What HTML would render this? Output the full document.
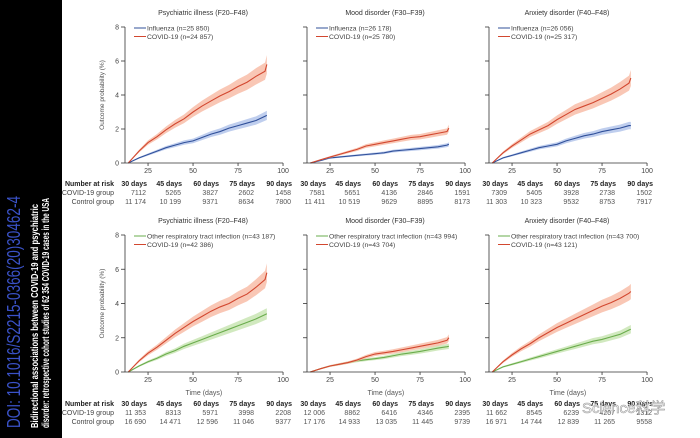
<!DOCTYPE html>
<html><head><meta charset="utf-8"><style>
html,body{margin:0;padding:0;background:#fff;}
svg{display:block;font-family:"Liberation Sans",sans-serif;}
</style></head><body>
<svg id="chart" width="700" height="438" viewBox="0 0 700 438">
<rect x="0" y="0" width="62" height="438" fill="#000"/>
<g transform="translate(20,428) rotate(-90)">
<text x="0" y="0" font-size="18" fill="#3a52c8" textLength="232" lengthAdjust="spacingAndGlyphs">DOI: 10.1016/S2215-0366(20)30462-4</text></g>
<g transform="translate(38,428) rotate(-90)">
<text x="0" y="0" font-size="10.5" font-weight="bold" fill="#fff" textLength="224" lengthAdjust="spacingAndGlyphs">Bidirectional associations between COVID-19 and psychiatric</text></g>
<g transform="translate(49,428) rotate(-90)">
<text x="0" y="0" font-size="10.5" font-weight="bold" fill="#fff" textLength="230" lengthAdjust="spacingAndGlyphs">disorder: retrospective cohort studies of 62 354 COVID-19 cases in the USA</text></g>
<text x="582" y="413" font-size="15" fill="#fff" stroke="#999" stroke-width="0.6">Science科学</text>
</svg>
<script>
const days=[14,20,25,30,35,40,45,50,55,60,65,70,75,80,85,90,91];
const titles=["Psychiatric illness (F20–F48)","Mood disorder (F30–F39)","Anxiety disorder (F40–F48)"];
// top row: influenza vs COVID
const t1Flu=[0,0.3,0.5,0.7,0.9,1.05,1.2,1.3,1.5,1.7,1.85,2.05,2.2,2.35,2.5,2.75,2.8];
const t1Cov=[0,0.7,1.2,1.55,1.95,2.3,2.6,3.0,3.35,3.65,3.95,4.2,4.5,4.75,5.1,5.4,5.8];
const t2Flu=[0,0.15,0.3,0.35,0.4,0.45,0.5,0.55,0.6,0.7,0.75,0.8,0.85,0.9,0.95,1.05,1.1];
const t2Cov=[0,0.2,0.35,0.5,0.65,0.8,1.0,1.1,1.2,1.3,1.4,1.5,1.55,1.65,1.75,1.85,2.05];
const t3Flu=[0,0.3,0.45,0.6,0.75,0.9,1.0,1.1,1.3,1.45,1.6,1.7,1.85,1.95,2.05,2.2,2.2];
const t3Cov=[0,0.6,1.0,1.35,1.7,1.95,2.2,2.55,2.85,3.15,3.35,3.55,3.8,4.05,4.35,4.7,5.0];
// bottom row: other respiratory tract infection vs COVID
const b1Oth=[0,0.35,0.6,0.8,1.05,1.25,1.5,1.7,1.9,2.1,2.3,2.5,2.7,2.9,3.1,3.35,3.4];
const b1Cov=[0,0.65,1.1,1.45,1.85,2.25,2.6,2.95,3.25,3.55,3.8,4.0,4.3,4.55,4.95,5.4,5.8];
const b2Oth=[0,0.2,0.35,0.45,0.55,0.65,0.72,0.78,0.85,0.95,1.05,1.12,1.2,1.3,1.4,1.48,1.5];
const b2Cov=[0,0.2,0.35,0.45,0.55,0.7,0.9,1.05,1.12,1.2,1.3,1.4,1.5,1.6,1.7,1.85,2.0];
const b3Oth=[0,0.3,0.45,0.6,0.75,0.9,1.05,1.2,1.35,1.5,1.65,1.8,1.9,2.05,2.2,2.45,2.5];
const b3Cov=[0,0.6,1.0,1.35,1.65,2.0,2.3,2.6,2.85,3.1,3.35,3.6,3.85,4.05,4.3,4.6,4.7];
const yTicks=[0,2,4,6,8];
const xTicks=[25,50,75,100];
const riskHead=["30 days","45 days","60 days","75 days","90 days"];
const topLegend=[["Influenza (n=25 850)","COVID-19 (n=24 857)"],["Influenza (n=26 178)","COVID-19 (n=25 780)"],["Influenza (n=26 056)","COVID-19 (n=25 317)"]];
const botLegend=[["Other respiratory tract infection (n=43 187)","COVID-19 (n=42 386)"],["Other respiratory tract infection (n=43 994)","COVID-19 (n=43 704)"],["Other respiratory tract infection (n=43 700)","COVID-19 (n=43 121)"]];
const topCovRisk=[[7112,5265,3827,2602,1458],[7581,5651,4136,2846,1591],[7309,5405,3928,2738,1502]];
const topCtlRisk=[[11174,10199,9371,8634,7800],[11411,10519,9629,8895,8173],[11303,10323,9532,8753,7917]];
const botCovRisk=[[11353,8313,5971,3998,2208],[12006,8862,6416,4346,2395],[11662,8545,6239,4207,2312]];
const botCtlRisk=[[16690,14471,12596,11046,9377],[17176,14933,13035,11445,9739],[16971,14744,12839,11265,9558]];

const NS="http://www.w3.org/2000/svg";
const svg=document.getElementById('chart');
const wm=svg.lastElementChild;
function mk(tag,attrs,parent){const e=document.createElementNS(NS,tag);for(const k in attrs)e.setAttribute(k,attrs[k]);(parent||svg).insertBefore(e,parent?null:wm);return e;}
function fmt(n){return n>=10000?String(n).replace(/(\d{2})(\d{3})$/,'$1 $2'):String(n);}
const COL={red:"#d2472f",redB:"#f7b49c",blue:"#30509a",blueB:"#a9bde8",green:"#6aac4c",greenB:"#c2e2a9"};
function panel(pi,row,ctl,cov,ctlColor,ctlBand,legend,covRisk,ctlRisk){
  const ox=125+pi*182;
  const y0=row===0?163:372, yTop=row===0?27:235;
  const xs=d=>ox+(d-12.2)*1.8;
  const ys=v=>y0-(v/8)*(y0-yTop);
  const g=mk('g',{});
  
  
  const t=mk('text',{x:ox+78,y:yTop-12,'font-size':7,fill:'#333','text-anchor':'middle'},g);t.textContent=titles[pi];
  
  [[ctl,ctlColor,ctlBand,'control'],[cov,COL.red,COL.redB,'covid']].forEach(([arr,c,b,nm])=>{
    let up=[],lo=[];
    arr.forEach((v,i)=>{const h=v*0.09+0.02;up.push(xs(days[i])+','+ys(v+h));lo.unshift(xs(days[i])+','+ys(Math.max(0,v-h)));});
    const band=mk('polygon',{points:up.concat(lo).join(' '),fill:b,opacity:0.75},g);
    
    const pts=arr.map((v,i)=>xs(days[i])+','+ys(v)).join(' ');
    const l=mk('polyline',{points:pts,fill:'none',stroke:c,'stroke-width':1.1},g);
    
  });
  const ya=mk('line',{x1:ox,y1:yTop,x2:ox,y2:y0,stroke:'#333','stroke-width':0.8},g);
  
  const xa=mk('line',{x1:ox,y1:y0,x2:xs(100),y2:y0,stroke:'#333','stroke-width':0.8},g);
  
  yTicks.forEach(v=>{mk('line',{x1:ox-4,y1:ys(v),x2:ox,y2:ys(v),stroke:'#333','stroke-width':0.8},g);
    if(pi===0){const tt=mk('text',{x:ox-6,y:ys(v)+2.5,'font-size':7,fill:'#444','text-anchor':'end'},g);tt.textContent=v;
    }});
  xTicks.forEach(v=>{mk('line',{x1:xs(v),y1:y0,x2:xs(v),y2:y0+3,stroke:'#333','stroke-width':0.8},g);
    const tt=mk('text',{x:xs(v),y:y0+10,'font-size':7,fill:'#444','text-anchor':'middle'},g);tt.textContent=v;
    });
  if(pi===0){const yt=mk('text',{transform:`translate(${ox-21},${(y0+yTop)/2}) rotate(-90)`,'font-size':6.5,fill:'#555','text-anchor':'middle'},g);yt.textContent='Outcome probability (%)';
    }
  if(row===1){const xt=mk('text',{x:xs(56),y:y0+23,'font-size':7,fill:'#555','text-anchor':'middle'},g);xt.textContent='Time (days)';
    }
  [[ctlColor,legend[0]],[COL.red,legend[1]]].forEach(([c,txt],i)=>{
    const ly=yTop+1+i*8.5;
    mk('line',{x1:ox+9,y1:ly,x2:ox+21,y2:ly,stroke:c,'stroke-width':1},g);
    const lt=mk('text',{x:ox+22,y:ly+2.5,'font-size':6.8,fill:'#444'},g);lt.textContent=txt;
    
  });
  const ry=row===0?186:406;
  const colR=[147,182,219,255,292].map(x=>x+pi*182-(pi>0?3:0));
  if(pi===0){[["Number at risk",true],["COVID-19 group",false],["Control group",false]].forEach(([s,b],i)=>{
    const tt=mk('text',{x:114,y:ry+i*9,'font-size':7,fill:b?'#222':'#444','font-weight':b?'bold':'normal','text-anchor':'end'},g);tt.textContent=s;
    });}
  riskHead.forEach((h,i)=>{
    const hh=mk('text',{x:colR[i],y:ry,'font-size':7,'font-weight':'bold',fill:'#222','text-anchor':'end'},g);hh.textContent=h;
    
    const a=mk('text',{x:colR[i]-1,y:ry+9,'font-size':7,fill:'#555','text-anchor':'end'},g);a.textContent=fmt(covRisk[i]);
    
    const b=mk('text',{x:colR[i]-1,y:ry+18,'font-size':7,fill:'#555','text-anchor':'end'},g);b.textContent=fmt(ctlRisk[i]);
    
  });
}
const topCtl=[t1Flu,t2Flu,t3Flu],topCov=[t1Cov,t2Cov,t3Cov],botCtl=[b1Oth,b2Oth,b3Oth],botCov=[b1Cov,b2Cov,b3Cov];
for(let i=0;i<3;i++){
  panel(i,0,topCtl[i],topCov[i],COL.blue,COL.blueB,topLegend[i],topCovRisk[i],topCtlRisk[i]);
  panel(i,1,botCtl[i],botCov[i],COL.green,COL.greenB,botLegend[i],botCovRisk[i],botCtlRisk[i]);
}
</script>
</body></html>
